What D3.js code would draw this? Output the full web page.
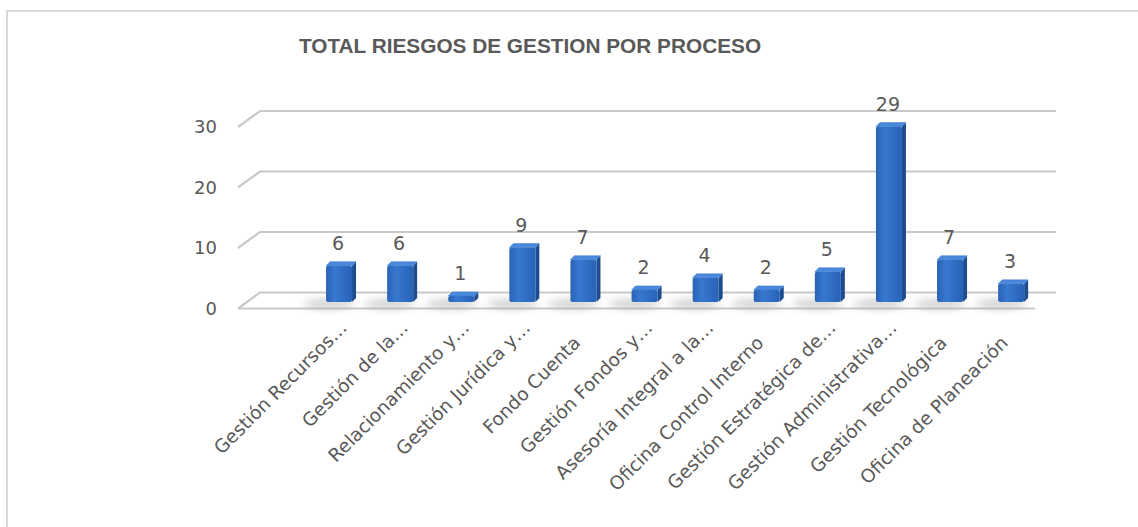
<!DOCTYPE html>
<html>
<head>
<meta charset="utf-8">
<script src="https://cdn.jsdelivr.net/npm/d3@7"></script>
<style>
  body { margin: 0; background: #fff; }
  svg text { font-family: "DejaVu Sans", "Noto Sans", sans-serif; fill: #595959; }
</style>
</head>
<body>
<svg id="chart" width="1138" height="527"></svg>
<script>
// chart data
const categories = [
  "Gestión Recursos…", "Gestión de la…", "Relacionamiento y…", "Gestión Jurídica y…",
  "Fondo Cuenta", "Gestión Fondos y…", "Asesoría Integral a la…", "Oficina Control Interno",
  "Gestión Estratégica de…", "Gestión Administrativa…", "Gestión Tecnológica", "Oficina de Planeación"
];
const values = [6, 6, 1, 9, 7, 2, 4, 2, 5, 29, 7, 3];
const yTicks = [0, 10, 20, 30];
const title = "TOTAL RIESGOS DE GESTION POR PROCESO";

let svg = d3.select("#chart");

// depth of the 3d box (back wall is up/right of the front edge)
const depthX = 22, depthY = -16;
const barDx = 4, barDy = -4;

// scales, in the plane where the bars stand
let x = d3.scaleBand()
    .domain(categories)
    .range([308.5, 1041.7])
    .paddingInner(0);

let y = d3.scaleLinear()
    .domain([0, 30])
    .range([302, 120.5]);

let defs = svg.append("defs");

let frontGrad = defs.append("linearGradient").attr("id", "front")
    .attr("x1", 0).attr("x2", 1).attr("y1", 0).attr("y2", 0);
frontGrad.append("stop").attr("offset", "0%").attr("stop-color", "#2a63b4");
frontGrad.append("stop").attr("offset", "35%").attr("stop-color", "#3778d0");
frontGrad.append("stop").attr("offset", "100%").attr("stop-color", "#2762b5");

defs.append("filter").attr("id", "blur")
    .attr("x", "-50%").attr("y", "-100%").attr("width", "200%").attr("height", "300%")
    .append("feGaussianBlur").attr("stdDeviation", 4);

// outer frame
svg.append("rect")
    .attr("x", 7).attr("y", 11)
    .attr("width", 1160).attr("height", 540)
    .attr("fill", "none")
    .attr("stroke", "#d9d9d9")
    .attr("stroke-width", 2);

// title
svg.append("text")
    .attr("x", 530).attr("y", 53)
    .attr("text-anchor", "middle")
    .style("font-family", "'Liberation Sans', Arial, sans-serif")
    .style("font-weight", "bold")
    .style("font-size", "20.8px")
    .text(title);

// gridlines: back wall line + left diagonal
const backY = v => y(v) - 9.5;
const frontLeft = 238, backLeft = frontLeft + depthX, backRight = 1056;

let grid = svg.append("g").attr("class", "grid");
yTicks.forEach(t => {
  grid.append("path")
    .attr("d", `M${frontLeft},${backY(t) - depthY} L${backLeft},${backY(t)} L${backRight},${backY(t)}`)
    .attr("fill", "none")
    .attr("stroke", "#c9c9c9")
    .attr("stroke-width", 2.2);
});
// front edge of the floor
grid.append("line")
    .attr("x1", frontLeft).attr("x2", 1035)
    .attr("y1", backY(0) - depthY).attr("y2", backY(0) - depthY)
    .attr("stroke", "#c9c9c9")
    .attr("stroke-width", 2.2);

// y tick labels
svg.append("g").selectAll("text")
    .data(yTicks)
    .enter().append("text")
    .attr("x", 217)
    .attr("y", d => backY(d) - depthY)
    .attr("dy", "0.36em")
    .attr("text-anchor", "end")
    .style("font-size", "18px")
    .text(d => d);

// bar shadows on the floor
svg.append("g").selectAll("ellipse")
    .data(values)
    .enter().append("ellipse")
    .attr("cx", (d, i) => x(categories[i]) + x.bandwidth() / 2 - 10)
    .attr("cy", y(0) + 2)
    .attr("rx", 26)
    .attr("ry", 4)
    .attr("fill", "#9a9a9a")
    .attr("opacity", 0.55)
    .attr("filter", "url(#blur)");

// bars: front face, side, top
const half = 13;
let bars = svg.append("g").selectAll("g")
    .data(values)
    .enter().append("g")
    .attr("transform", (d, i) => `translate(${x(categories[i]) + x.bandwidth() / 2},0)`);

bars.append("path") // side
    .attr("d", d => `M${half},${y(d)} L${half + barDx},${y(d) + barDy} L${half + barDx},${y(0) + barDy} L${half},${y(0)} Z`)
    .attr("fill", "#1d4c90");

bars.append("path") // top
    .attr("d", d => `M${-half},${y(d)} L${-half + barDx},${y(d) + barDy} L${half + barDx},${y(d) + barDy} L${half},${y(d)} Z`)
    .attr("fill", "#4a88dc")
    .attr("stroke", "#3a78cc")
    .attr("stroke-width", 0.5);

bars.append("rect") // front
    .attr("x", -half)
    .attr("y", d => y(d))
    .attr("width", half * 2)
    .attr("height", d => y(0) - y(d))
    .attr("rx", 2)
    .attr("fill", "url(#front)");

// value labels
bars.append("text")
    .attr("x", -1)
    .attr("y", d => y(d) - 16)
    .attr("text-anchor", "middle")
    .style("font-size", "19px")
    .text(d => d);

// category labels, rotated
svg.append("g").selectAll("text")
    .data(categories)
    .enter().append("text")
    .attr("transform", d => {
      let c = x(d) + x.bandwidth() / 2;
      let cut = d.endsWith("…");
      let ax = cut ? c + 9 : c - 2;
      let ay = cut ? 329 : 344;
      return `translate(${ax},${ay}) rotate(-45)`;
    })
    .attr("text-anchor", "end")
    .style("font-size", "18.5px")
    .text(d => d);
</script>
</body>
</html>
